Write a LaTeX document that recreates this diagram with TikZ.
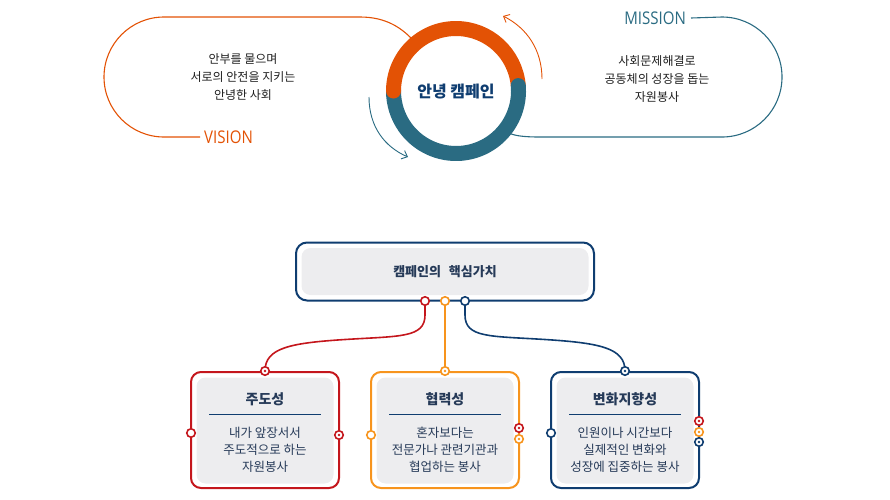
\documentclass[tikz,border=0pt]{standalone}
\usepackage{fontspec}
\setmainfont{Noto Sans CJK KR}
\newfontfamily\latinf{Open Sans}
\usetikzlibrary{arrows.meta}
\definecolor{corange}{HTML}{E35205}
\definecolor{cteal}{HTML}{2A6B82}
\definecolor{cnavy}{HTML}{0F3D70}
\definecolor{cred}{HTML}{C4161C}
\definecolor{cyel}{HTML}{F7941D}
\definecolor{cgrey}{HTML}{EDEDEF}
\definecolor{ctext}{HTML}{263A58}
\definecolor{cdark}{HTML}{1E1E1E}
\tikzset{
  txt/.style={font=\fontsize{12}{18}\selectfont, text=cdark, align=center, inner sep=0pt},
  boxtxt/.style={font=\fontsize{12.5}{17}\selectfont, text=ctext, align=center, inner sep=0pt},
  boxtitle/.style={font=\bfseries\fontsize{14}{16}\selectfont, text=ctext, inner sep=0pt},
  outerbox/.style={draw=#1, line width=2pt, rounded corners=10pt, minimum width=148pt, minimum height=116pt, inner sep=0pt},
  innerbox/.style={fill=cgrey, rounded corners=9pt, minimum width=137pt, minimum height=106pt, inner sep=0pt},
  opc/.style={circle, draw=#1, line width=1.6pt, fill=white, minimum size=8.5pt, inner sep=0pt},
  dotc/.style={circle, draw=#1, line width=1.6pt, fill=white, minimum size=8.5pt, inner sep=0pt,
     path picture={\fill[#1] (path picture bounding box.center) circle (1.3pt);}},
  link/.style={line width=1.6pt},
  loopline/.style={line width=1.1pt},
  arr/.style={line width=0.9pt, -{Straight Barb[length=5pt,width=9pt]}},
  eng/.style={font=\latinf\fontsize{17.5}{17.5}\selectfont, inner sep=0pt, xscale=0.86},
}
\begin{document}
\begin{tikzpicture}[x=1pt,y=-1pt]
\useasboundingbox (0,0) rectangle (890,499);
% ---------- top: ring ----------
\coordinate (c) at (456,91);
\draw[cteal, line width=15pt] (c) ++(-5:62.5) arc[start angle=-5, end angle=180, radius=62.5];
\draw[corange, line width=15pt] (c) ++(180:62.5) arc[start angle=180, end angle=355, radius=62.5];
\fill[corange] (c) ++(180:62.5) circle (7.5pt);
\fill[cteal] (c) ++(-5:62.5) circle (7.5pt);
\node[font=\bfseries\fontsize{16}{16}\selectfont, text=cnavy, inner sep=0pt] (ring) at (456,92) {안녕 캠페인};
% ---------- vision loop ----------
\node[eng, text=corange, anchor=west] (vision) at (204,137) {VISION};
\coordinate (vL) at (411,38);
\draw[corange, loopline] (vision.west) ++(-4,0) -- (164,137) arc[start angle=90, end angle=270, radius=60] -- (360,17) .. controls (385,17) and (400,27) .. (vL);
\node[txt] (vtext) at (243,77) {안부를 물으며\\서로의 안전을 지키는\\안녕한 사회};
% ---------- mission loop ----------
\node[eng, text=cteal, anchor=east] (mission) at (686,18) {MISSION};
\coordinate (mR) at (509,133);
\draw[cteal, loopline] (mission.east) ++(5,0) -- (722,17) arc[start angle=270, end angle=450, radius=60] -- (540,137) .. controls (525,137) and (515,136) .. (mR);
\node[txt] (mtext) at (657,79) {사회문제해결로\\공동체의 성장을 돕는\\자원봉사};
% ---------- arrows ----------
\coordinate (a1s) at (542,79);
\coordinate (a1e) at (503,16);
\draw[corange, arr] (a1s) .. controls (542,50) and (527,28) .. (a1e);
\coordinate (a2s) at (369,97);
\coordinate (a2e) at (408,157);
\draw[cteal, arr] (a2s) .. controls (369,127) and (385,147) .. (a2e);
% ---------- core box ----------
\node[draw=cnavy, line width=2pt, rounded corners=11pt, minimum width=298pt, minimum height=58pt, inner sep=0pt] (core) at (445,271.5) {};
\node[fill=cgrey, rounded corners=9pt, minimum width=287pt, minimum height=47pt, inner sep=0pt] (corein) at (445,271.5) {};
\node[font=\bfseries\fontsize{13}{13}\selectfont, text=ctext, inner sep=0pt] (coret) at (445,272) {캠페인의\hspace{0.6em}핵심가치};
% ---------- boxes ----------
\foreach \nm/\x/\col in {b1/265/cred, b2/445/cyel, b3/625/cnavy}{
  \node[outerbox=\col] (\nm) at (\x,430) {};
  \node[innerbox] (\nm in) at (\x,430.5) {};
  \draw[cnavy, line width=0.9pt] (\x-56,414) -- (\x+56,414);
}
\node[boxtitle] (t1) at (265,399) {주도성};
\node[boxtitle] (t2) at (445,399) {협력성};
\node[boxtitle] (t3) at (625,399) {변화지향성};
\node[boxtxt] (x1) at (265,450) {내가 앞장서서\\주도적으로 하는\\자원봉사};
\node[boxtxt] (x2) at (445,450) {혼자보다는\\전문가나 관련기관과\\협업하는 봉사};
\node[boxtxt] (x3) at (625,450) {인원이나 시간보다\\실제적인 변화와\\성장에 집중하는 봉사};
% ---------- connectors ----------
\draw[cred, link] (425,301) -- (425,315) .. controls (425,338) and (400,336) .. (345,339.5) .. controls (290,343) and (265,348) .. (265,371);
\draw[cyel, link] (445,301) -- (445,371);
\draw[cnavy, link] (465,301) -- (465,315) .. controls (465,338) and (490,336) .. (545,339.5) .. controls (600,343) and (625,348) .. (625,371);
% ---------- little circles ----------
\node[opc=cred] (p1) at (425,301) {};
\node[opc=cyel] (p2) at (445,301) {};
\node[opc=cnavy] (p3) at (465,301) {};
\node[dotc=cred] (q1) at (265,371) {};
\node[dotc=cyel] (q2) at (445,371) {};
\node[dotc=cnavy] (q3) at (625,371) {};
\node[opc=cred] (l1) at (191,433) {};
\node[dotc=cred] (r1) at (339,435) {};
\node[opc=cyel] (l2) at (371,435) {};
\node[dotc=cred] (r2a) at (519,428) {};
\node[dotc=cyel] (r2b) at (519,439) {};
\node[opc=cnavy] (l3) at (551,433) {};
\node[dotc=cred] (r3a) at (699,421) {};
\node[dotc=cyel] (r3b) at (699,432) {};
\node[dotc=cnavy] (r3c) at (699,442) {};
\end{tikzpicture}
\end{document}
